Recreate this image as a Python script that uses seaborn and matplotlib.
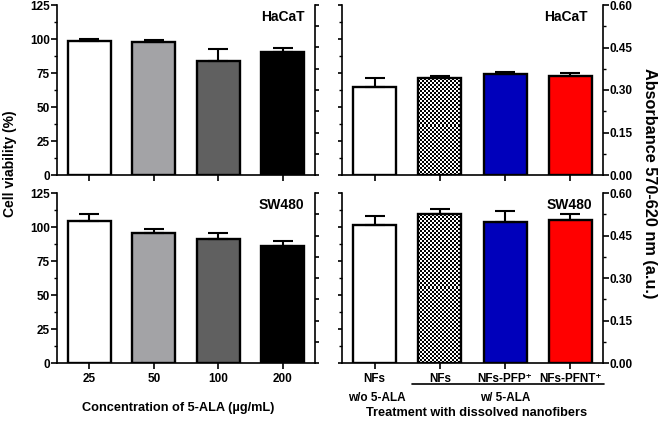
import numpy as np
import pandas as pd
import matplotlib
matplotlib.use("Agg")
import matplotlib.pyplot as plt
from matplotlib.lines import Line2D
from matplotlib.ticker import MultipleLocator, FormatStrFormatter
import seaborn as sns

# ---------------- data ----------------
cell_lines = ["HaCaT", "SW480"]
conc_labels = ["25", "50", "100", "200"]
hacat_viability = [98.8, 98.0, 83.8, 90.7]
hacat_viability_err = [1.2, 1.3, 9.2, 2.4]
sw480_viability = [104.1, 95.6, 91.2, 85.9]
sw480_viability_err = [5.8, 2.9, 4.2, 4.1]

treat_keys = ["NFs (w/o 5-ALA)", "NFs", "NFs-PFP+", "NFs-PFNT+"]
treat_labels = ["NFs", "NFs", "NFs-PFP\u207a", "NFs-PFNT\u207a"]
hacat_abs = [0.312, 0.341, 0.358, 0.349]
hacat_abs_err = [0.031, 0.007, 0.006, 0.011]
sw480_abs = [0.486, 0.525, 0.498, 0.503]
sw480_abs_err = [0.032, 0.017, 0.040, 0.024]

conc_colors = ["#ffffff", "#a3a3a6", "#606060", "#000000"]
treat_colors = ["#ffffff", "#ffffff", "#0000bb", "#ff0000"]

# ---------------- style ----------------
sns.set_theme(style="ticks")
plt.rcParams["font.family"] = ["Liberation Sans", "DejaVu Sans"]
plt.rcParams["font.weight"] = "bold"
plt.rcParams["text.color"] = "black"
plt.rcParams["axes.labelcolor"] = "black"
plt.rcParams["axes.linewidth"] = 1.2
plt.rcParams["xtick.major.width"] = 1.2
plt.rcParams["ytick.major.width"] = 1.2
plt.rcParams["ytick.minor.width"] = 1.0
plt.rcParams["xtick.color"] = "black"
plt.rcParams["ytick.color"] = "black"
plt.rcParams["xtick.labelcolor"] = "black"
plt.rcParams["ytick.labelcolor"] = "black"
plt.rcParams["axes.edgecolor"] = "black"

W, H = 660, 422
fig = plt.figure(figsize=(W / 100, H / 100), dpi=100)

def px_axes(x0, y0, x1, y1):
    return fig.add_axes([x0 / W, 1 - y1 / H, (x1 - x0) / W, (y1 - y0) / H])

ax_lt = px_axes(57, 5, 315, 175)
ax_lb = px_axes(57, 193, 315, 363)
ax_rt = px_axes(342, 5, 603, 175)
ax_rb = px_axes(342, 193, 603, 363)

TICK_FS = 8.5


def draw_bars(ax, keys, vals, errs, colors):
    df = pd.DataFrame({"group": keys, "value": vals})
    sns.barplot(data=df, x="group", y="value", hue="group", order=keys,
                hue_order=keys, palette=colors, dodge=False, legend=False,
                width=0.66, edgecolor="black", linewidth=1.7,
                errorbar=None, ax=ax, saturation=1)
    xs = np.arange(len(keys))
    ax.errorbar(xs, vals, yerr=[np.zeros(len(errs)), errs], fmt="none",
                ecolor="black", elinewidth=1.5, capsize=7.5, capthick=1.5,
                zorder=1)
    ax.set_xlim(-0.5, len(keys) - 0.5)
    ax.set_xlabel("")
    ax.set_ylabel("")
    ax.spines["top"].set_visible(False)
    ax.tick_params(axis="x", length=4, direction="out", labelsize=TICK_FS, pad=3)


def checker(ax, patch):
    fig.canvas.draw()
    bb = patch.get_extents()
    nx = max(int(round(bb.width / 2.0)), 2)
    ny = max(int(round(bb.height / 2.0)), 2)
    arr = (np.indices((ny, nx)).sum(axis=0) % 2).astype(float)
    x0 = patch.get_x()
    w = patch.get_width()
    h = patch.get_height()
    im = ax.imshow(arr, cmap="gray", extent=(x0, x0 + w, 0, h),
                   interpolation="nearest", aspect="auto", zorder=0.5,
                   origin="lower")
    im.set_clip_path(patch)
    patch.set_facecolor("none")
    patch.set_zorder(0.8)


def left_panel(ax, vals, errs, title, show_xlabels):
    draw_bars(ax, conc_labels, vals, errs, conc_colors)
    tw = ax.twinx()
    ax.set_ylim(0, 125)
    ax.yaxis.set_major_locator(MultipleLocator(25))
    ax.yaxis.set_minor_locator(MultipleLocator(12.5))
    ax.tick_params(axis="y", which="major", length=4, labelsize=TICK_FS, pad=1)
    ax.tick_params(axis="y", which="minor", length=2)
    ax.spines["right"].set_visible(False)
    tw.set_ylim(0, 0.6)
    tw.yaxis.set_major_locator(MultipleLocator(0.075))
    tw.tick_params(axis="y", length=3, labelright=False)
    for s in ["top", "left", "bottom"]:
        tw.spines[s].set_visible(False)
    tw.spines["right"].set_visible(True)
    if not show_xlabels:
        ax.set_xticklabels([])
    ax.text(0.96, 0.93, title, transform=ax.transAxes, ha="right", va="center",
            fontsize=10, fontweight="bold")


def right_panel(ax, vals, errs, title, show_xlabels, tx):
    draw_bars(ax, treat_keys, vals, errs, treat_colors)
    tw = ax.twinx()
    # primary axis: absorbance on the right
    ax.yaxis.tick_right()
    ax.set_ylim(0, 0.6)
    ax.yaxis.set_major_locator(MultipleLocator(0.15))
    ax.yaxis.set_minor_locator(MultipleLocator(0.075))
    ax.yaxis.set_major_formatter(FormatStrFormatter("%.2f"))
    ax.tick_params(axis="y", which="major", length=4, labelsize=TICK_FS, pad=1)
    ax.tick_params(axis="y", which="minor", length=2)
    ax.spines["left"].set_visible(False)
    ax.spines["right"].set_visible(True)
    # secondary axis: viability scale ticks on the left
    tw.yaxis.tick_left()
    tw.set_ylim(0, 125)
    tw.yaxis.set_major_locator(MultipleLocator(25))
    tw.yaxis.set_minor_locator(MultipleLocator(12.5))
    tw.tick_params(axis="y", which="major", length=3, labelleft=False,
                   labelright=False)
    tw.tick_params(axis="y", which="minor", length=2)
    for s in ["top", "right", "bottom"]:
        tw.spines[s].set_visible(False)
    tw.spines["left"].set_visible(True)
    if show_xlabels:
        ax.set_xticklabels(treat_labels)
    else:
        ax.set_xticklabels([])
    ax.text(tx, 0.93, title, transform=ax.transAxes, ha="right", va="center",
            fontsize=10, fontweight="bold")
    checker(ax, ax.patches[1])


left_panel(ax_lt, hacat_viability, hacat_viability_err, cell_lines[0], False)
left_panel(ax_lb, sw480_viability, sw480_viability_err, cell_lines[1], True)
right_panel(ax_rt, hacat_abs, hacat_abs_err, cell_lines[0], False, 0.94)
right_panel(ax_rb, sw480_abs, sw480_abs_err, cell_lines[1], True, 0.96)

for ax in [ax_lt, ax_lb, ax_rt, ax_rb]:
    for t in ax.get_xticklabels() + ax.get_yticklabels():
        t.set_fontweight("bold")
        t.set_color("black")

# axis labels
fig.text(10 / W, 1 - 164 / H, "Cell viability (%)", rotation=90, ha="center",
         va="center", fontsize=10, fontweight="bold")
fig.text(650 / W, 1 - 183 / H, "Absorbance 570-620 nm (a.u.)", rotation=-90,
         ha="center", va="center", fontsize=11.7, fontweight="bold")
fig.text(178 / W, 1 - 408 / H, "Concentration of 5-ALA (\u00b5g/mL)", ha="center",
         va="center", fontsize=9.2, fontweight="bold")
fig.text(377 / W, 1 - 398 / H, "w/o 5-ALA", ha="center", va="center",
         fontsize=TICK_FS, fontweight="bold")
fig.text(505 / W, 1 - 398 / H, "w/ 5-ALA", ha="center", va="center",
         fontsize=TICK_FS, fontweight="bold")
fig.text(477 / W, 1 - 413 / H, "Treatment with dissolved nanofibers", ha="center",
         va="center", fontsize=9.2, fontweight="bold")
fig.add_artist(Line2D([412 / W, 604 / W], [1 - 384 / H, 1 - 384 / H],
                      transform=fig.transFigure, color="black", lw=1.2))

fig.savefig("out.png", dpi=100)
